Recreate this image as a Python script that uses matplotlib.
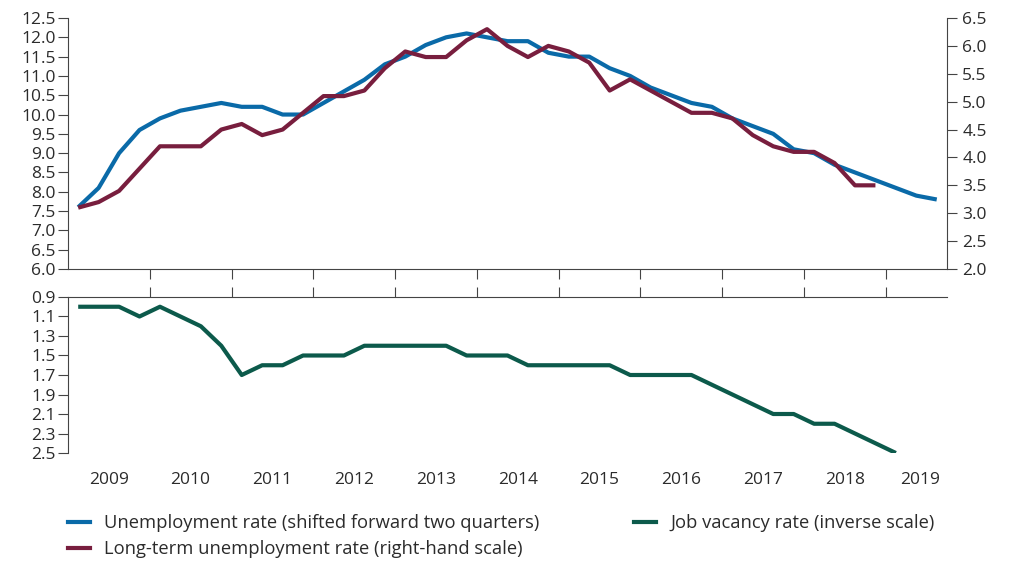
import matplotlib
matplotlib.use("Agg")
from matplotlib import pyplot as plt
from matplotlib.lines import Line2D
import numpy as np

plt.rcParams['font.family'] = ['Open Sans', 'DejaVu Sans']

# quarterly data, first point 2009 Q1
start_year = 2009

unemployment = [7.6, 8.1, 9.0, 9.6, 9.9, 10.1, 10.2, 10.3, 10.2, 10.2, 10.0, 10.0,
                10.3, 10.6, 10.9, 11.3, 11.5, 11.8, 12.0, 12.1, 12.0, 11.9, 11.9, 11.6,
                11.5, 11.5, 11.2, 11.0, 10.7, 10.5, 10.3, 10.2, 9.9, 9.7, 9.5, 9.1,
                9.0, 8.7, 8.5, 8.3, 8.1, 7.9, 7.8]

long_term = [3.1, 3.2, 3.4, 3.8, 4.2, 4.2, 4.2, 4.5, 4.6, 4.4, 4.5, 4.8,
             5.1, 5.1, 5.2, 5.6, 5.9, 5.8, 5.8, 6.1, 6.3, 6.0, 5.8, 6.0,
             5.9, 5.7, 5.2, 5.4, 5.2, 5.0, 4.8, 4.8, 4.7, 4.4, 4.2, 4.1,
             4.1, 3.9, 3.5, 3.5]

vacancy = [1.0, 1.0, 1.0, 1.1, 1.0, 1.1, 1.2, 1.4, 1.7, 1.6, 1.6, 1.5,
           1.5, 1.5, 1.4, 1.4, 1.4, 1.4, 1.4, 1.5, 1.5, 1.5, 1.6, 1.6,
           1.6, 1.6, 1.6, 1.7, 1.7, 1.7, 1.7, 1.8, 1.9, 2.0, 2.1, 2.1,
           2.2, 2.2, 2.3, 2.4, 2.5]

year_labels = ['2009', '2010', '2011', '2012', '2013', '2014', '2015', '2016', '2017', '2018', '2019']

labels = ['Unemployment rate (shifted forward two quarters)',
          'Long-term unemployment rate (right-hand scale)',
          'Job vacancy rate (inverse scale)']

blue = '#0a6aa8'
maroon = '#781e3e'
green = '#0c5a4b'
txt = '#2b2b2b'
axc = '#444444'


def quarters(n):
    return start_year + (np.arange(n) + 0.5) / 4


fig = plt.figure(figsize=(10.10, 5.61), dpi=100)
ax1 = fig.add_axes([0.0673, 0.5205, 0.8703, 0.4474])
ax1r = ax1.twinx()
ax2 = fig.add_axes([0.0673, 0.1925, 0.8703, 0.2781])

xmin, xmax = 2009.0, 2019.75

# top panel
ax1.plot(quarters(len(unemployment)), unemployment, color=blue, lw=3, solid_capstyle='butt')
ax1r.plot(quarters(len(long_term)), long_term, color=maroon, lw=3, solid_capstyle='butt')
ax1.set_xlim(xmin, xmax)
ax1.set_ylim(6.0, 12.5)
ax1r.set_ylim(2.0, 6.5)
ax1.set_yticks(np.arange(6.0, 12.51, 0.5))
ax1r.set_yticks(np.arange(2.0, 6.51, 0.5))
ax1.yaxis.set_major_formatter('{x:.1f}')
ax1r.yaxis.set_major_formatter('{x:.1f}')
ax1.set_xticks(range(2010, 2020))
ax1.set_xticklabels([])

for s in ['top', 'right']:
    ax1.spines[s].set_visible(False)
for s in ['top', 'left', 'bottom']:
    ax1r.spines[s].set_visible(False)
ax1.spines['left'].set_color(axc)
ax1.spines['bottom'].set_color(axc)
ax1r.spines['right'].set_color(axc)
ax1.tick_params(axis='y', colors=axc, labelcolor=txt, labelsize=12.5, length=7, pad=2)
ax1.tick_params(axis='x', colors=axc, length=7)
ax1r.tick_params(axis='y', colors=axc, labelcolor=txt, labelsize=12.5, length=7, pad=4)

# bottom panel, inverse scale
ax2.plot(quarters(len(vacancy)), vacancy, color=green, lw=3, solid_capstyle='butt')
ax2.set_xlim(xmin, xmax)
ax2.set_ylim(2.5, 0.9)
ax2.set_yticks(np.arange(0.9, 2.51, 0.2))
ax2.yaxis.set_major_formatter('{x:.1f}')
for s in ['right', 'bottom']:
    ax2.spines[s].set_visible(False)
ax2.spines['left'].set_color(axc)
ax2.spines['top'].set_color(axc)
ax2.xaxis.set_ticks_position('top')
ax2.set_xticks(range(2010, 2020))
ax2.set_xticklabels([])
mids = [y + 0.5 for y in range(2009, 2019)] + [2019.42]
ax2.set_xticks(mids, minor=True)
ax2.set_xticklabels(year_labels, minor=True)
ax2.tick_params(axis='x', which='major', colors=axc, length=7, top=True, bottom=False)
ax2.tick_params(axis='x', which='minor', length=0, top=False, bottom=True,
                labelbottom=True, labeltop=False, labelsize=12.5, labelcolor=txt, pad=14)
ax2.tick_params(axis='y', colors=axc, labelcolor=txt, labelsize=12.5, length=7, pad=2)

# legend
handles = [Line2D([], [], color=blue, lw=3),
           Line2D([], [], color=maroon, lw=3),
           Line2D([], [], color=green, lw=3)]
fig.legend(handles, labels, ncol=2, loc='upper left', bbox_to_anchor=(0.056, 0.1035),
           frameon=False, fontsize=13.2, handlelength=1.2, handletextpad=0.8,
           columnspacing=5.15, labelspacing=0.45, labelcolor=txt, borderaxespad=0.2)

fig.savefig('out.png', dpi=100)
